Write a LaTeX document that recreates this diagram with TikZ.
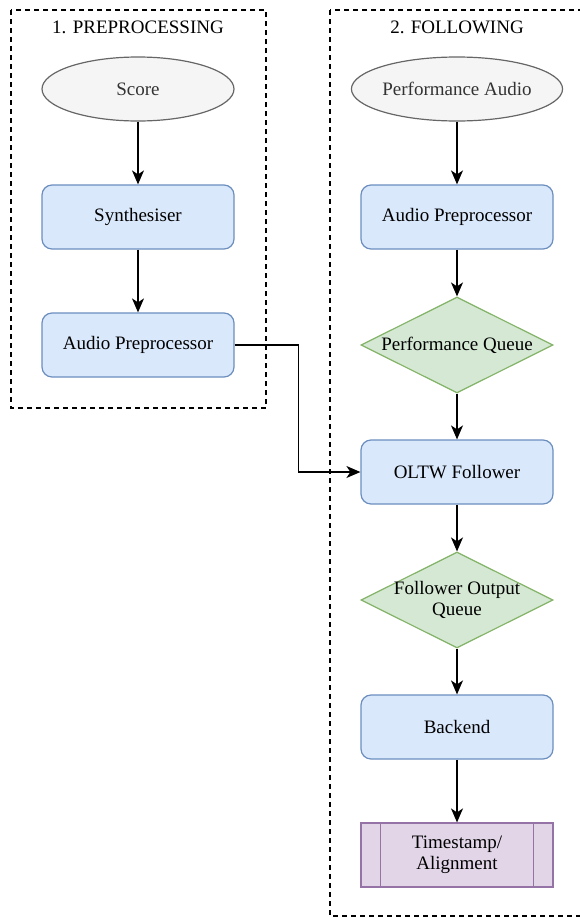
\documentclass[tikz,border=0pt]{standalone}
\usepackage{fontspec}
\setmainfont{Liberation Serif}
\usetikzlibrary{arrows.meta,shapes.geometric}
\definecolor{ink}{HTML}{000000}
\definecolor{greyfill}{HTML}{F5F5F5}
\definecolor{greyline}{HTML}{666666}
\definecolor{greytext}{HTML}{333333}
\definecolor{bluefill}{HTML}{DAE8FC}
\definecolor{blueline}{HTML}{6C8EBF}
\definecolor{greenfill}{HTML}{D5E8D4}
\definecolor{greenline}{HTML}{82B366}
\definecolor{purplefill}{HTML}{E1D5E7}
\definecolor{purpleline}{HTML}{9673A6}
\tikzset{
  txt/.style={font=\fontsize{19}{21}\selectfont,align=center},
  group/.style={draw=ink,line width=1.2pt,dash pattern=on 5pt off 4pt},
  source/.style={txt,ellipse,draw=greyline,fill=greyfill,text=greytext,line width=1.2pt,minimum width=192pt,minimum height=64pt,inner sep=0pt},
  stage/.style={txt,draw=blueline,fill=bluefill,rounded corners=10pt,line width=1.2pt,minimum width=192pt,minimum height=64pt},
  queue/.style={txt,diamond,aspect=2,draw=greenline,fill=greenfill,line width=1.2pt,minimum width=192pt,minimum height=96pt,inner sep=-6pt},
  result/.style={txt,draw=purpleline,fill=purplefill,line width=1.2pt,minimum width=192pt,minimum height=64pt},
  arr/.style={-{Stealth[length=14pt,width=12pt,inset=4pt]},draw=ink,line width=1.4pt},
}
\begin{document}
\begin{tikzpicture}[x=1pt,y=-1pt]
  \useasboundingbox (0,0) rectangle (579,918);
  \draw[group] (11,10) rectangle (266,408);
  \draw[group] (330,10) rectangle (590,916);
  \node[txt] (title1) at (138,27) {1. PREPROCESSING};
  \node[txt] (title2) at (457,27) {2. FOLLOWING};
  \node[source] (score) at (138,89) {Score};
  \node[stage] (synth) at (138,217) {Synthesiser};
  \node[stage] (prepa) at (138,345) {Audio Preprocessor};
  \node[source] (perf) at (457,89) {Performance Audio};
  \node[stage] (prepb) at (457,217) {Audio Preprocessor};
  \node[queue] (perfq) at (457,345) {Performance Queue};
  \node[stage] (oltw) at (457,472) {OLTW Follower};
  \node[queue] (outq) at (457,600) {Follower Output\\Queue};
  \node[stage] (backend) at (457,727) {Backend};
  \node[result] (stamp) at (457,855) {Timestamp/\\Alignment};
  \draw[purpleline,line width=1.2pt] ([xshift=20pt]stamp.north west) -- ([xshift=20pt]stamp.south west);
  \draw[purpleline,line width=1.2pt] ([xshift=-20pt]stamp.north east) -- ([xshift=-20pt]stamp.south east);
  \foreach \a/\b in {score/synth,synth/prepa,perf/prepb,prepb/perfq,perfq/oltw,oltw/outq,outq/backend,backend/stamp}
    \draw[arr] (\a) -- (\b);
  \draw[arr] (prepa.east) -- ++(64,0) |- (oltw.west);
\end{tikzpicture}
\end{document}
